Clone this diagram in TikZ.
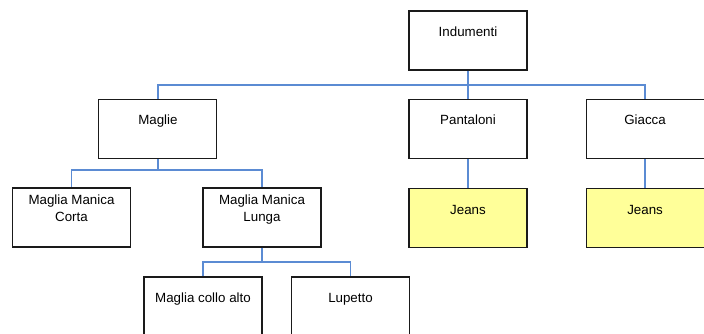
\documentclass[tikz,border=0pt]{standalone}
\usepackage{fontspec}
\setmainfont{Liberation Sans}
\usetikzlibrary{positioning}
\definecolor{inkc}{HTML}{1A1A1A}
\definecolor{linec}{HTML}{5B8BD3}
\definecolor{jeansc}{HTML}{FFFF99}
\tikzset{
  box/.style ={draw=inkc,line width=.8pt,fill=white,minimum width=88.5pt,
               minimum height=44.25pt,inner sep=0pt},
  hit/.style ={box,fill=jeansc},
  txt/.style ={font=\fontsize{10}{12.75}\selectfont,align=center,inner sep=0pt,
               text height=7.2pt,text depth=0pt},
  txt2/.style={txt,text height=19.95pt},
  conn/.style={draw=linec,line width=.9pt},
}

\begin{document}
\begin{tikzpicture}[x=0.75pt,y=-0.75pt]

\clip (0,0) rectangle (704,334);
\fill[white] (0,0) rectangle (704,334);

% ---- root ----------------------------------------------------------------
\node[box] (ind) at (468,40.5) {};
\node[txt] (indT) at ([yshift=-15.75pt]ind.north) {Indumenti};

% ---- first level ---------------------------------------------------------
\node[box] (pan) at (468,129) {};
\node[box,left=143.25pt of pan] (mag) {};
\node[box,right=43.5pt of pan] (gia) {};
\node[txt] (magT) at ([yshift=-15.75pt]mag.north) {Maglie};
\node[txt] (panT) at ([yshift=-15.75pt]pan.north) {Pantaloni};
\node[txt] (giaT) at ([yshift=-15.75pt]gia.north) {Giacca};

% ---- second level --------------------------------------------------------
\node[box] (mmc) at (71.5,217.5) {};
\node[box] (mml) at (262,217.5) {};
\node[hit,below=22pt of pan] (jea1) {};
\node[hit,below=22pt of gia] (jea2) {};
\node[txt2] (mmcT) at ([yshift=-15.75pt]mmc.north) {Maglia Manica\\Corta};
\node[txt2] (mmlT) at ([yshift=-15.75pt]mml.north) {Maglia Manica\\Lunga};
\node[txt] (jea1T) at ([yshift=-15.75pt]jea1.north) {Jeans};
\node[txt] (jea2T) at ([yshift=-15.75pt]jea2.north) {Jeans};

% ---- third level ---------------------------------------------------------
\node[box] (mca) at (203,306.5) {};
\node[box] (lup) at (350.5,306.5) {};
\node[txt] (mcaT) at ([yshift=-15.75pt]mca.north) {Maglia collo alto};
\node[txt] (lupT) at ([yshift=-15.75pt]lup.north) {Lupetto};

% ---- connectors ----------------------------------------------------------
\coordinate (bus0) at (0,85);
\coordinate (bus1) at (0,170);
\coordinate (bus2) at (0,262);
\draw[conn] (ind.south) -- (pan.north);
\draw[conn] (ind.south|-bus0) -| (mag.north);
\draw[conn] (ind.south|-bus0) -| (gia.north);
\draw[conn] (mag.south) -- (mag.south|-bus1) -| (mmc.north);
\draw[conn] (mag.south|-bus1) -| (mml.north);
\draw[conn] (pan.south) -- (jea1.north);
\draw[conn] (gia.south) -- (jea2.north);
\draw[conn] (mml.south) -- (mml.south|-bus2) -| (mca.north);
\draw[conn] (mml.south|-bus2) -| (lup.north);
\end{tikzpicture}
\end{document}
